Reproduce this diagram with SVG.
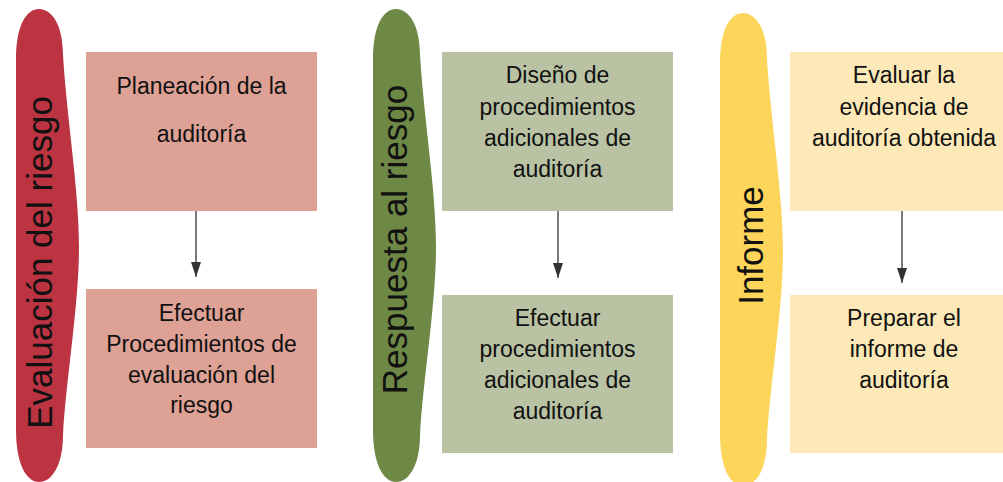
<svg xmlns="http://www.w3.org/2000/svg" width="1003" height="482" viewBox="0 0 1003 482">
<defs>
<style>
.t{font-family:"Liberation Sans",Arial,sans-serif;font-size:23px;fill:#111;text-anchor:middle}
.p{font-family:"Liberation Sans",Arial,sans-serif;font-size:35px;fill:#111;text-anchor:middle}
.c{stroke:#333;stroke-width:1.3;fill:none;marker-end:url(#ah)}
</style>
<marker id="ah" viewBox="0 0 15 10" refX="15" refY="5" markerWidth="15" markerHeight="10" markerUnits="userSpaceOnUse" orient="auto">
<path d="M0,0 L15,5 L0,10 Z" fill="#333"/>
</marker>
<path id="pill" d="M16,60 C16,24 27,9 39,9 C52,9 63,25 63,55 C67,120 79,190 79,247 C79,305 66,380 63,435 C63,465 52,482 39,482 C27,482 16,465 16,430 Z"/>
</defs>
<rect width="1003" height="482" fill="#fff"/>

<g id="pill1"><use href="#pill" fill="#BC3442"/><text class="p" transform="translate(52,262.5) rotate(-90)">Evaluación del riesgo</text></g>
<g id="pill2"><use href="#pill" transform="translate(357,0)" fill="#6E8846"/><text class="p" transform="translate(407,239.5) rotate(-90)">Respuesta al riesgo</text></g>
<g id="pill3"><use href="#pill" transform="translate(704,4)" fill="#FDD55B"/><text class="p" transform="translate(763,245.5) rotate(-90)">Informe</text></g>

<g id="box1a"><rect x="86" y="52" width="231" height="159" fill="#DEA195"/>
<text class="t" x="201.5" y="94">Planeación de la</text><text class="t" x="201.5" y="142">auditoría</text></g>
<g id="box1b"><rect x="86" y="289" width="231" height="159" fill="#DEA195"/>
<text class="t" x="201.5" y="321">Efectuar</text><text class="t" x="201.5" y="352">Procedimientos de</text><text class="t" x="201.5" y="383">evaluación del</text><text class="t" x="201.5" y="413">riesgo</text></g>

<g id="box2a"><rect x="442" y="52" width="231" height="159" fill="#B9C3A4"/>
<text class="t" x="557.5" y="83">Diseño de</text><text class="t" x="557.5" y="115">procedimientos</text><text class="t" x="557.5" y="146">adicionales de</text><text class="t" x="557.5" y="177">auditoría</text></g>
<g id="box2b"><rect x="442" y="295" width="231" height="158" fill="#B9C3A4"/>
<text class="t" x="557.5" y="326">Efectuar</text><text class="t" x="557.5" y="357">procedimientos</text><text class="t" x="557.5" y="388">adicionales de</text><text class="t" x="557.5" y="419">auditoría</text></g>

<g id="box3a"><rect x="790" y="52" width="231" height="159" fill="#FDE9B8"/>
<text class="t" x="904" y="83">Evaluar la</text><text class="t" x="904" y="115">evidencia de</text><text class="t" x="904" y="146">auditoría obtenida</text></g>
<g id="box3b"><rect x="790" y="295" width="231" height="158" fill="#FDE9B8"/>
<text class="t" x="904" y="326">Preparar el</text><text class="t" x="904" y="357">informe de</text><text class="t" x="904" y="388">auditoría</text></g>

<g id="connectors">
<line class="c" x1="196" y1="211" x2="196" y2="277"/>
<line class="c" x1="558" y1="211" x2="558" y2="278"/>
<line class="c" x1="902" y1="211" x2="902" y2="283"/>
</g>
</svg>
